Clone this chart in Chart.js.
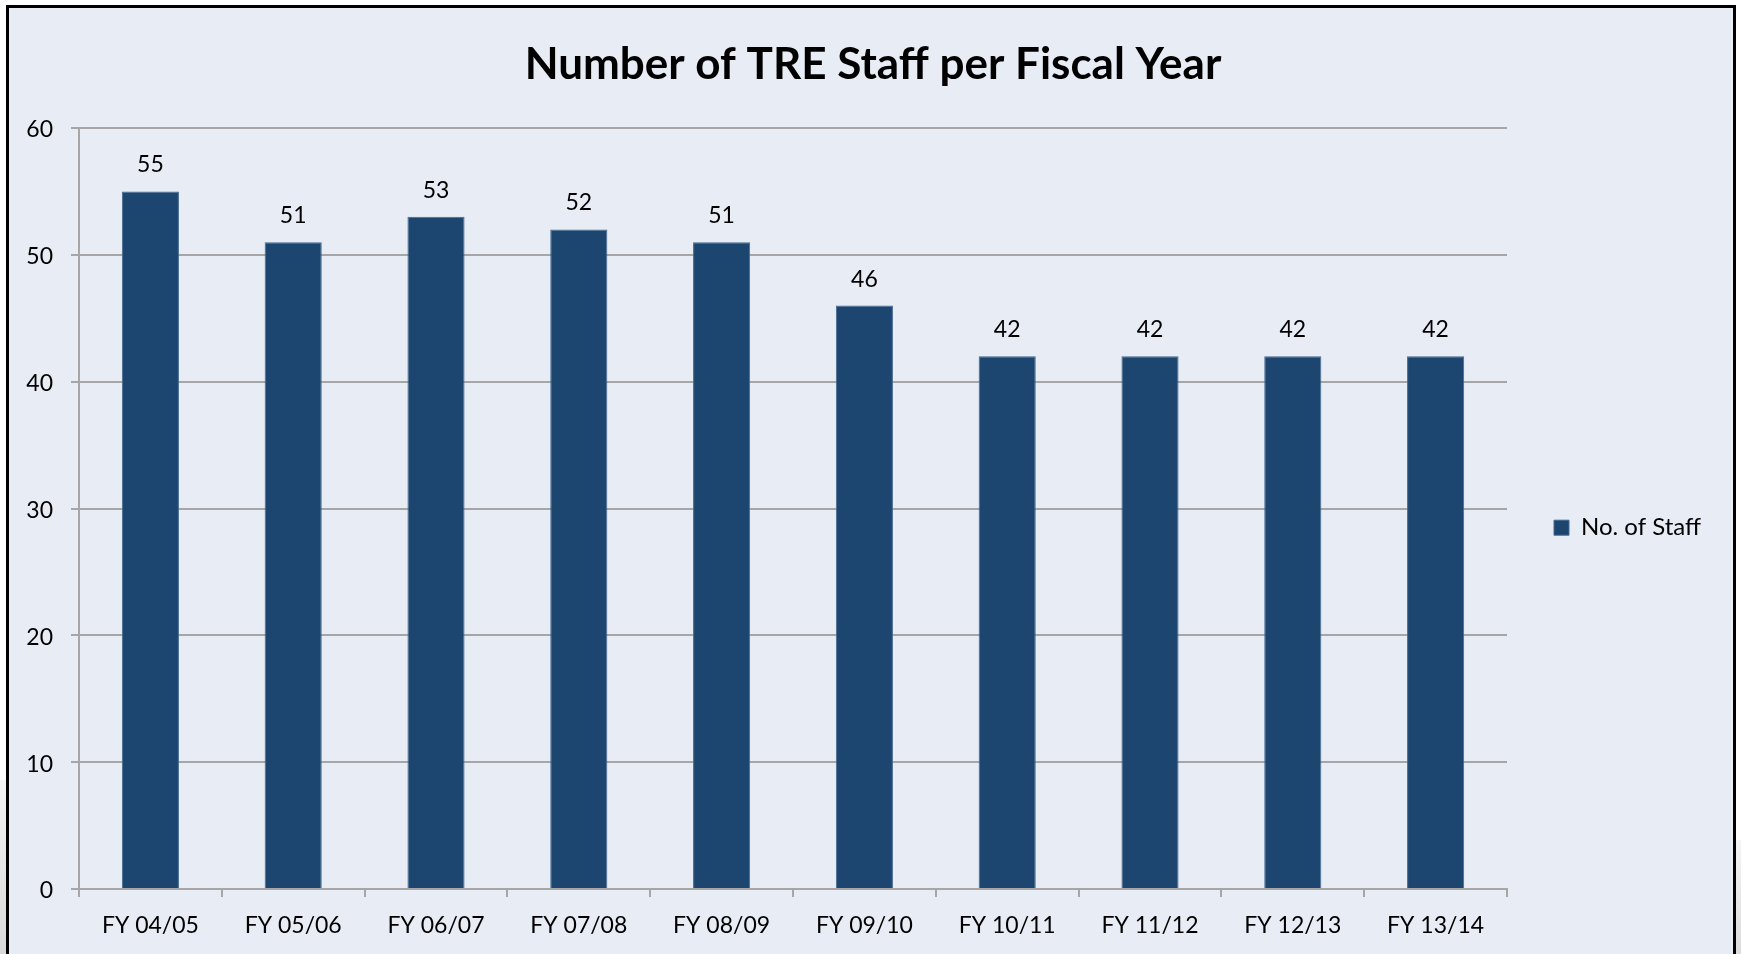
<!DOCTYPE html>
<html><head><meta charset="utf-8">
<script src="https://cdn.jsdelivr.net/npm/chart.js@4.4.1/dist/chart.umd.min.js"></script>
<style>
html,body{margin:0;padding:0;background:#fff;width:1741px;height:954px;overflow:hidden;position:relative;}
#shadowL{position:absolute;left:0;top:780px;width:6px;height:174px;background:linear-gradient(#f4f4f4,#d9d9d9);}
#shadowR{position:absolute;left:1736px;top:840px;width:5px;height:114px;background:linear-gradient(#f4f4f4,#dcdcdc);}
#frame{position:absolute;left:6px;top:5px;width:1724px;height:946px;border:3px solid #000;border-bottom:none;background:#E8EDF5;}
canvas{display:block;}
</style></head><body>
<div id="shadowL"></div><div id="shadowR"></div>
<div id="frame"><canvas id="c" width="1724" height="946"></canvas></div>
<script>
const chartTitle = 'Number of TRE Staff per Fiscal Year';
const seriesLabel = 'No. of Staff';
const categories = ['FY 04/05','FY 05/06','FY 06/07','FY 07/08','FY 08/09','FY 09/10','FY 10/11','FY 11/12','FY 12/13','FY 13/14'];
const staffValues = [55, 51, 53, 52, 51, 46, 42, 42, 42, 42];
const yTickValues = [0, 10, 20, 30, 40, 50, 60];

const FONT = 'Lato';
const GRID = '#A6A6A6';
const BAR = '#1C4670';
const LEGEND_SIZE = 24;

const valueLabels = {
  id: 'valueLabels',
  afterDatasetsDraw(chart) {
    const ctx = chart.ctx;
    const meta = chart.getDatasetMeta(0);
    ctx.save();
    ctx.font = '23px ' + FONT;
    ctx.fillStyle = '#000';
    ctx.textAlign = 'center';
    ctx.textBaseline = 'alphabetic';
    meta.data.forEach((bar, i) => {
      ctx.fillText(String(chart.data.datasets[0].data[i]), bar.x, bar.y - 19);
    });
    ctx.restore();
  }
};

// center the title over the whole chart box, ignoring the right padding used for the legend
const titleCenter = {
  id: 'titleCenter',
  afterLayout(chart) {
    if (chart.titleBlock) {
      chart.titleBlock.left = 0;
      chart.titleBlock.right = chart.width + 4;
    }
  }
};

function build() {
  const mctx = document.createElement('canvas').getContext('2d');
  mctx.font = LEGEND_SIZE + 'px ' + FONT;
  const legendTextW = mctx.measureText(seriesLabel).width;
  const legendPad = 47;
  const legendW = legendPad + 15 + LEGEND_SIZE / 2 + legendTextW + 10;
  const plotRight = 1498;
  const padRight = Math.max(0, 1724 - plotRight - legendW);

  new Chart(document.getElementById('c'), {
    type: 'bar',
    data: {
      labels: categories,
      datasets: [{
        label: seriesLabel,
        data: staffValues,
        backgroundColor: BAR,
        borderColor: '#45698F',
        borderWidth: 1,
        categoryPercentage: 1.0,
        barPercentage: 0.4
      }]
    },
    options: {
      responsive: false,
      devicePixelRatio: 1,
      animation: false,
      layout: { padding: { left: 0, top: 0, bottom: 0, right: padRight } },
      plugins: {
        tooltip: { enabled: false },
        title: {
          display: true,
          text: chartTitle,
          color: '#000',
          font: { family: FONT, size: 44, weight: 'bold' },
          padding: { top: 30.4, bottom: 36.8 }
        },
        legend: {
          display: true,
          position: 'right',
          fullSize: false,
          align: 'center',
          title: { display: true, text: '', padding: 12, font: { size: 12 } },
          labels: {
            color: '#000',
            font: { family: FONT, size: LEGEND_SIZE },
            boxWidth: 15,
            boxHeight: 15,
            padding: legendPad
          }
        }
      },
      scales: {
        x: {
          afterFit(scale) { scale.height = 65; },
          grid: { display: true, drawOnChartArea: false, drawTicks: true, tickLength: 8, color: GRID, lineWidth: 2, offset: true },
          border: { display: true, color: GRID, width: 2 },
          ticks: { color: '#000', font: { family: FONT, size: 23 }, padding: 15, autoSkip: false, maxRotation: 0, minRotation: 0 }
        },
        y: {
          min: 0,
          max: 60,
          afterFit(scale) { scale.width = 70; },
          afterBuildTicks(scale) { scale.ticks = yTickValues.map(v => ({ value: v })); },
          grid: { display: true, drawOnChartArea: true, drawTicks: true, tickLength: 8, color: GRID, lineWidth: 2 },
          border: { display: true, color: GRID, width: 2 },
          ticks: { color: '#000', font: { family: FONT, size: 23 }, padding: 18, labelOffset: 2 }
        }
      }
    },
    plugins: [valueLabels, titleCenter]
  });
}

if (document.fonts && document.fonts.load) {
  Promise.all([document.fonts.load('23px Lato'), document.fonts.load('bold 44px Lato')]).then(build, build);
} else { build(); }
</script>
</body></html>
